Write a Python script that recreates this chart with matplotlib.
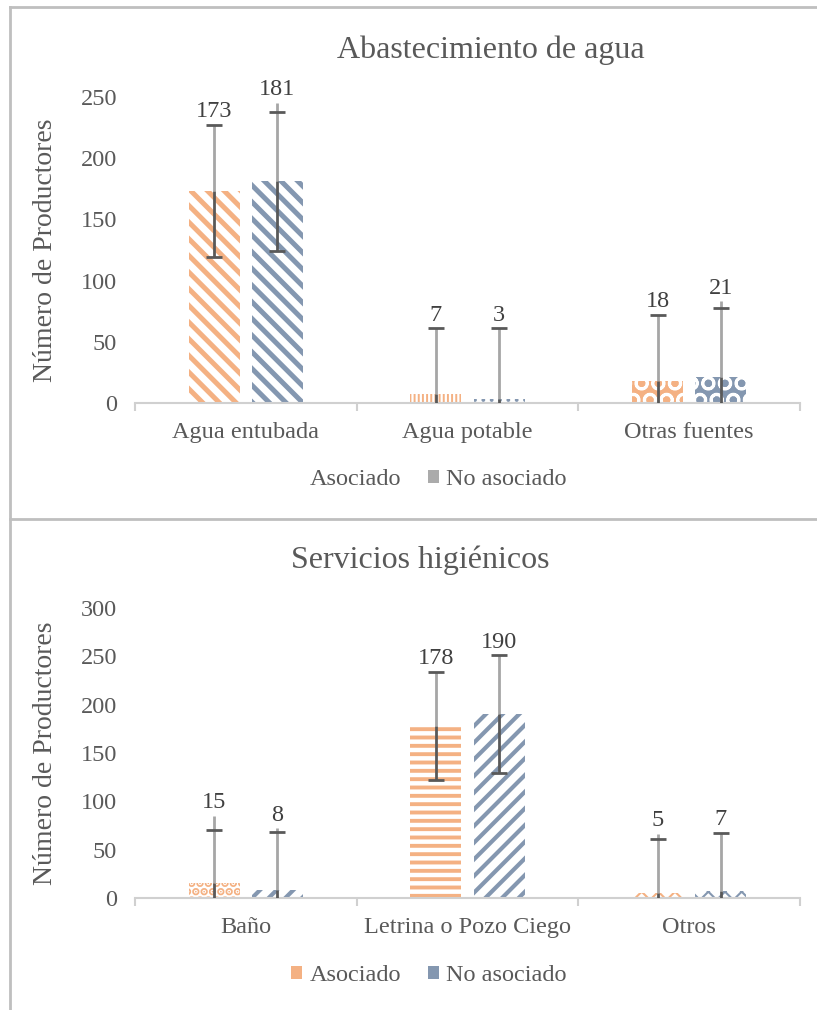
import matplotlib
matplotlib.use("Agg")
import matplotlib.pyplot as plt
from matplotlib.patches import Patch
from matplotlib.lines import Line2D

plt.rcParams["font.family"] = ["Liberation Serif", "DejaVu Serif"]

GRIS_TXT = "#595959"
NARANJA = "#F4B183"
AZUL = "#8497B0"

# --- Abastecimiento de agua ---
cat_agua = ["Agua entubada", "Agua potable", "Otras fuentes"]
asoc_agua = [173, 7, 18]
noasoc_agua = [181, 3, 21]
err_asoc_agua = [54, 54, 54]
err_noasoc_agua = [57, 58, 57]
tope_asoc_agua = [227, 61, 72]
tope_noasoc_agua = [245, 61, 83]
ticks_agua = [0, 50, 100, 150, 200, 250]

# --- Servicios higiénicos ---
cat_hig = ["Baño", "Letrina o Pozo Ciego", "Otros"]
asoc_hig = [15, 178, 5]
noasoc_hig = [8, 190, 7]
err_asoc_hig = [55, 56, 56]
err_noasoc_hig = [60, 61, 60]
tope_asoc_hig = [85, 234, 66]
tope_noasoc_hig = [72, 251, 67]
ticks_hig = [0, 50, 100, 150, 200, 250, 300]

# patrones de relleno (hatch, linewidth, fondo de color?)
pat_asoc_agua = [("\\\\", 3.6, False), ("||||", 1.4, False), ("O", 2.0, True)]
pat_noasoc_agua = [("\\\\", 3.6, False), ("..", 1.5, False), ("O", 2.0, True)]
pat_asoc_hig = [("..", 4.0, False), ("--", 2.8, False), ("xx", 1.5, False)]
pat_noasoc_hig = [("//", 3.0, False), ("//", 3.0, False), ("xx", 1.5, False)]

W = 0.23
OFF = 0.1425


def barras(ax, x, vals, color, patrones):
    for xi, v, (h, lw, fondo) in zip(x, vals, patrones):
        if fondo:
            fc, ec = color, "white"
        else:
            fc, ec = "white", color
        with plt.rc_context({"hatch.linewidth": lw}):
            b = ax.bar(xi, v, W, color=fc, edgecolor=ec, linewidth=0, hatch=h, zorder=2)
        for p in b:
            if hasattr(p, "set_hatch_linewidth"):
                p.set_hatch_linewidth(lw)


def errores(ax, x, vals, err, tope):
    lows = [v - e for v, e in zip(vals, err)]
    highs = [v + e for v, e in zip(vals, err)]
    ax.vlines(x, vals, tope, color="#A6A6A6", linewidth=2, zorder=3)
    ax.vlines(x, lows, vals, color="#595959", linewidth=2, zorder=3)
    ax.plot(x, highs, ls="none", marker="_", markersize=12, mew=2, color="#595959", zorder=4)
    ax.plot(x, lows, ls="none", marker="_", markersize=12, mew=2, color="#595959", zorder=4)
    for xi, v, t in zip(x, vals, tope):
        ax.annotate(str(v), (xi, t), xytext=(0, 2), textcoords="offset points",
                    ha="center", va="bottom", fontsize=17.5, color="#404040")


def panel(ax, cats, a, n, ea, en, ta, tn, pa, pn, ticks):
    x = list(range(len(cats)))
    xa = [i - OFF for i in x]
    xn = [i + OFF for i in x]
    barras(ax, xa, a, NARANJA, pa)
    barras(ax, xn, n, AZUL, pn)
    errores(ax, xa, a, ea, ta)
    errores(ax, xn, n, en, tn)
    ax.set_xlim(-0.5, len(cats) - 0.5)
    ax.set_ylim(ticks[0], ticks[-1])
    ax.set_yticks(ticks)
    ax.set_xticks(x)
    ax.set_xticklabels(cats)
    ax.set_xticks([i - 0.5 for i in range(len(cats) + 1)], minor=True)
    for s in ["top", "right", "left"]:
        ax.spines[s].set_visible(False)
    ax.spines["bottom"].set_color("#D0D0D0")
    ax.spines["bottom"].set_linewidth(1.5)
    ax.tick_params(axis="x", which="major", length=0, pad=14, labelsize=17.5, labelcolor=GRIS_TXT)
    ax.tick_params(axis="x", which="minor", length=6, width=1.5, color="#D0D0D0")
    ax.tick_params(axis="y", length=0, pad=13, labelsize=17.5, labelcolor=GRIS_TXT)
    ax.set_ylabel("Número de Productores", fontsize=20, color=GRIS_TXT)
    ax.yaxis.set_label_coords(-0.115, 0.5)


fig = plt.figure(figsize=(8.17, 10.1), dpi=100)
ax1 = fig.add_axes([0.1652, 0.601, 0.814, 0.303])
ax2 = fig.add_axes([0.1652, 0.1109, 0.814, 0.2871])

panel(ax1, cat_agua, asoc_agua, noasoc_agua, err_asoc_agua, err_noasoc_agua,
      tope_asoc_agua, tope_noasoc_agua, pat_asoc_agua, pat_noasoc_agua, ticks_agua)
panel(ax2, cat_hig, asoc_hig, noasoc_hig, err_asoc_hig, err_noasoc_hig,
      tope_asoc_hig, tope_noasoc_hig, pat_asoc_hig, pat_noasoc_hig, ticks_hig)

fig.text(0.601, 0.950, "Abastecimiento de agua", ha="center", va="center", fontsize=23, color=GRIS_TXT)
fig.text(0.514, 0.4455, "Servicios higiénicos", ha="center", va="center", fontsize=23, color=GRIS_TXT)

# leyendas
h1 = [Patch(facecolor="white", edgecolor="none"), Patch(facecolor="#ABABAB", edgecolor="none")]
h2 = [Patch(facecolor=NARANJA, edgecolor="none"), Patch(facecolor=AZUL, edgecolor="none")]
for hs, y in [(h1, 0.525), (h2, 0.0337)]:
    fig.legend(hs, ["Asociado", "No asociado"], loc="center", bbox_to_anchor=(0.525, y), ncol=2,
               frameon=False, fontsize=17.5, labelcolor=GRIS_TXT, handlelength=0.45,
               handleheight=0.45, handletextpad=0.3, columnspacing=1.1)

# marcos del gráfico
borde = "#BFBFBF"
fig.add_artist(Line2D([10 / 817, 10 / 817], [0, 1 - 7 / 1010], transform=fig.transFigure, color=borde, lw=2))
fig.add_artist(Line2D([10 / 817, 1], [1 - 7 / 1010, 1 - 7 / 1010], transform=fig.transFigure, color=borde, lw=2))
fig.add_artist(Line2D([10 / 817, 1], [1 - 519 / 1010, 1 - 519 / 1010], transform=fig.transFigure, color=borde, lw=2))

fig.savefig("out.png", dpi=100)
